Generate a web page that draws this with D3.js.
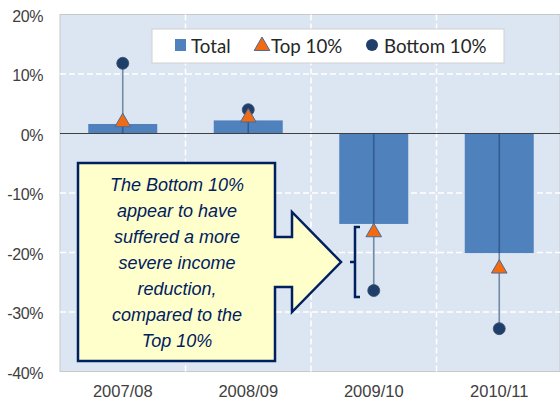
<!DOCTYPE html>
<html><head><meta charset="utf-8">
<script src="https://cdn.jsdelivr.net/npm/d3@7"></script>
<style>body{margin:0;background:#fff}svg{display:block}</style>
</head><body>
<svg id="c" width="560" height="402"></svg>
<script>
const categories = ["2007/08", "2008/09", "2009/10", "2010/11"];
const total = [1.6, 2.2, -15.2, -20.1];
const top10 = [1.9, 2.7, -16.6, -22.7];
const bottom10 = [11.8, 4.0, -26.4, -32.8];
const yTicks = [20, 10, 0, -10, -20, -30, -40];
const noteLines = ["The Bottom 10%", "appear to have", "suffered a more", "severe income", "reduction,", "compared to the", "Top 10%"];

const svg = d3.select("#c");
const L = 60, R = 562, T = 14.5, B = 371.5;
const x = d3.scaleBand().domain(categories).range([L, R]);
const y = d3.scaleLinear().domain([-40, 20]).range([B, T]);

// plot background
svg.append("rect").attr("x", L).attr("y", T).attr("width", 560 - L).attr("height", B - T)
  .attr("fill", "#dce6f2").attr("stroke", "#c8c8c8").attr("stroke-width", 1);

// grid
svg.append("g").selectAll("line").data(yTicks.filter(d => d !== 20 && d !== -40 && d !== 0)).join("line")
  .attr("x1", L).attr("x2", 560).attr("y1", d => y(d)).attr("y2", d => y(d))
  .attr("stroke", "#fff").attr("stroke-width", 1.5).attr("stroke-dasharray", "6,3");
svg.append("g").selectAll("line").data(categories.slice(1)).join("line")
  .attr("x1", d => x(d)).attr("x2", d => x(d)).attr("y1", T).attr("y2", B)
  .attr("stroke", "#fff").attr("stroke-width", 1.5).attr("stroke-dasharray", "6,3");

// y axis
const yAxis = d3.axisLeft(y).tickValues(yTicks).tickSize(0).tickPadding(17).tickFormat(d => d + "%");
const ga = svg.append("g").attr("transform", `translate(${L},1.5)`).call(yAxis);
ga.select(".domain").remove();
ga.selectAll("text").attr("font-family", "Liberation Sans, Arial, sans-serif").attr("font-size", 16)
  .attr("fill", "#404040").attr("letter-spacing", "-0.4");

// x axis
const xAxis = d3.axisBottom(x).tickSize(0).tickPadding(14);
const gx = svg.append("g").attr("transform", `translate(0,${B})`).call(xAxis);
gx.select(".domain").remove();
gx.selectAll("text").attr("font-family", "Liberation Sans, Arial, sans-serif").attr("font-size", 16.5)
  .attr("fill", "#404040");

// bars
const bw = 69;
svg.append("g").selectAll("rect").data(categories).join("rect")
  .attr("x", d => x(d) + x.bandwidth() / 2 - bw / 2)
  .attr("width", bw)
  .attr("y", (d, i) => y(Math.max(0, total[i])))
  .attr("height", (d, i) => Math.abs(y(total[i]) - y(0)))
  .attr("fill", "#4f81bd");

// zero line
svg.append("line").attr("x1", L).attr("x2", 560).attr("y1", y(0)).attr("y2", y(0))
  .attr("stroke", "#404040").attr("stroke-width", 1.2);

// drop lines
svg.append("g").selectAll("line").data(categories).join("line")
  .attr("x1", d => x(d) + x.bandwidth() / 2).attr("x2", d => x(d) + x.bandwidth() / 2)
  .attr("y1", y(0)).attr("y2", (d, i) => y(bottom10[i]))
  .attr("stroke", "#1f3f6a").attr("stroke-opacity", 0.55).attr("stroke-width", 1.6);

// circles
svg.append("g").selectAll("circle").data(categories).join("circle")
  .attr("cx", d => x(d) + x.bandwidth() / 2).attr("cy", (d, i) => y(bottom10[i]))
  .attr("r", 6).attr("fill", "#1f3f6a").attr("stroke", "#3a4f6a").attr("stroke-width", 0.8);

// triangles
const tri = d3.symbol().type(d3.symbolTriangle).size(105);
svg.append("g").selectAll("path").data(categories).join("path")
  .attr("transform", (d, i) => `translate(${x(d) + x.bandwidth() / 2},${y(top10[i])})`)
  .attr("d", tri).attr("fill", "#f26b10").attr("stroke", "#4a6a9a").attr("stroke-width", 1);

// legend
const lg = svg.append("g");
lg.append("rect").attr("x", 152).attr("y", 29).attr("width", 352).attr("height", 34)
  .attr("fill", "#fff").attr("stroke", "#d0d0d0");
lg.append("rect").attr("x", 175).attr("y", 39).attr("width", 11).attr("height", 12).attr("fill", "#4f81bd");
lg.append("path").attr("transform", "translate(262,46)").attr("d", d3.symbol().type(d3.symbolTriangle).size(105))
  .attr("fill", "#f26b10").attr("stroke", "#4a6a9a");
lg.append("circle").attr("cx", 372).attr("cy", 45).attr("r", 6).attr("fill", "#1f3f6a");
const lt = [["Total", 191], ["Top 10%", 271], ["Bottom 10%", 384]];
lg.selectAll("text").data(lt).join("text").attr("x", d => d[1]).attr("y", 52.5)
  .attr("font-family", "Lato, 'Open Sans', sans-serif").attr("font-size", 18.7).attr("fill", "#262626")
  .text(d => d[0]);

// callout
const cp = [[78,163],[275,163],[275,237],[292,237],[292,212],[341,262],[292,312],[292,287],[275,287],[275,361],[78,361]];
svg.append("path").attr("d", d3.line()(cp) + "Z")
  .attr("fill", "#ffffcc").attr("stroke", "#002060").attr("stroke-width", 2.5).attr("stroke-linejoin", "miter");
svg.append("g").selectAll("text").data(noteLines).join("text")
  .attr("x", 177).attr("y", (d, i) => 191 + i * 26).attr("text-anchor", "middle")
  .attr("font-family", "'Liberation Sans Narrow', 'Liberation Sans', Arial, sans-serif").attr("font-style", "italic")
  .attr("font-size", 18).attr("fill", "#002060").text(d => d);

// bracket
svg.append("path").attr("d", "M360,227 L355,227 L355,262 L350,262 L355,262 L355,297 L360,297")
  .attr("fill", "none").attr("stroke", "#002060").attr("stroke-width", 2.5);
</script>
</body></html>
